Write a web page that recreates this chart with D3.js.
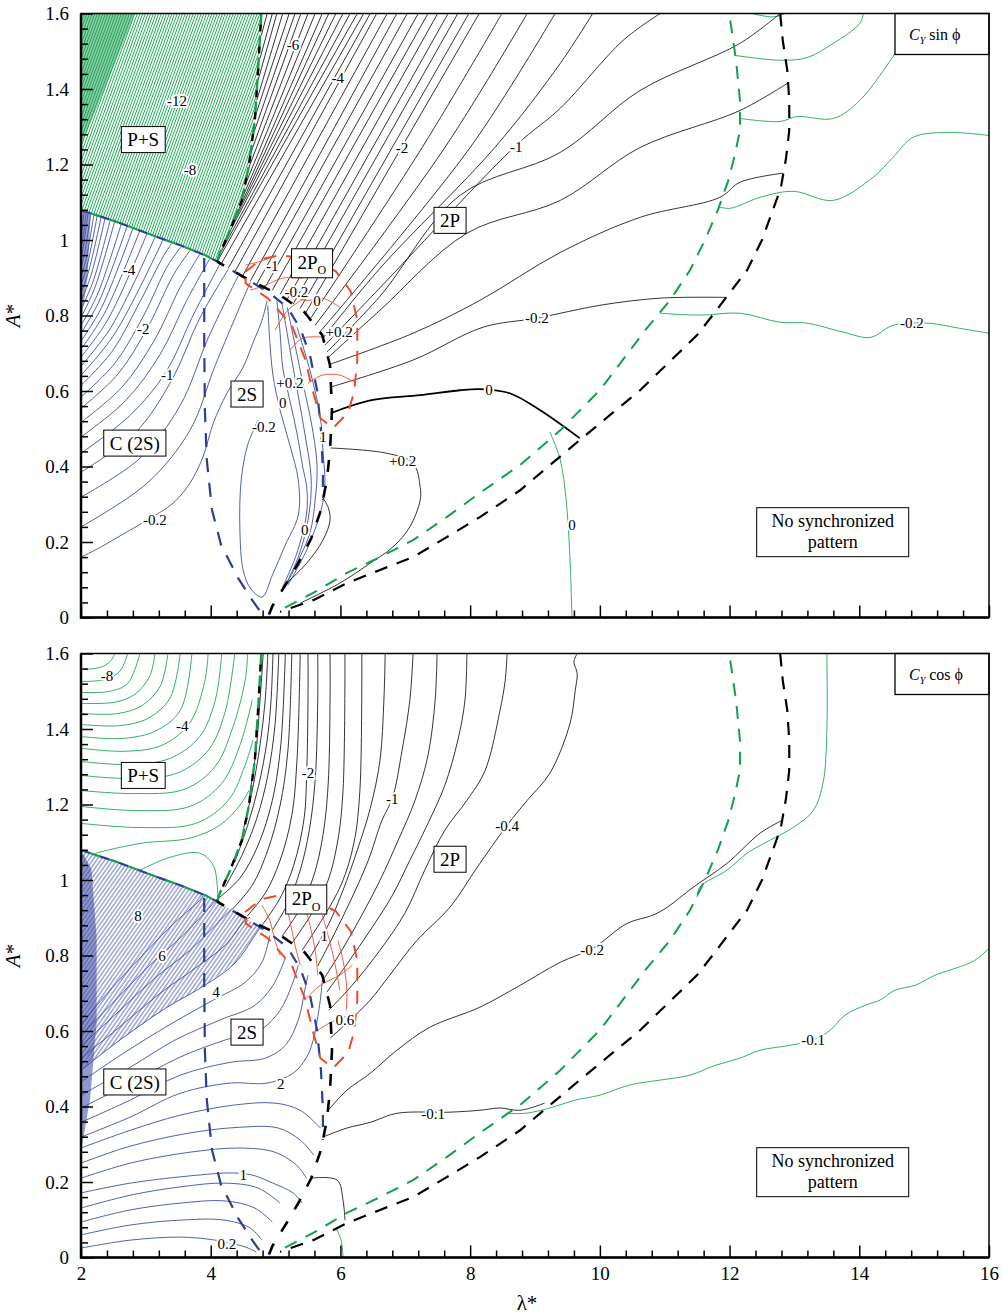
<!DOCTYPE html>
<html>
<head>
<meta charset="utf-8">
<script src="https://cdn.jsdelivr.net/npm/d3@7/dist/d3.min.js"></script>
<style>
  body { margin: 0; background: #fff; }
  text { font-family: "Liberation Serif", "Times New Roman", serif; }
</style>
</head>
<body>
<svg id="chart" width="1004" height="1316"></svg>
<script>
// ---- axes ----
const xMajor = [2, 4, 6, 8, 10, 12, 14, 16];
const yMajor = [0, 0.2, 0.4, 0.6, 0.8, 1, 1.2, 1.4, 1.6];

// ---- regime boundaries (same in both panels), [lambda*, A*] ----
const left2P = [[4.78,1.6],[4.73,1.449],[4.68,1.317],[4.59,1.198],[4.48,1.105],[4.30,1.026],[4.14,0.965],[4.10,0.943]];
const upperC2S = [[2,1.079],[2.52,1.050],[3.06,1.015],[3.53,0.986],[3.91,0.960],[4.10,0.943]];
const lower2P = [[4.10,0.943],[4.57,0.896],[5.07,0.854],[5.45,0.808],[5.72,0.748],[5.84,0.668],[5.87,0.549],[5.84,0.443],[5.79,0.364],[5.70,0.285],[5.55,0.210],[5.36,0.147],[5.18,0.094],[4.95,0.030],[4.88,0.0]];
const right2S = [[4.10,0.943],[4.61,0.891],[4.91,0.859],[5.18,0.822],[5.38,0.766],[5.53,0.695],[5.64,0.602],[5.70,0.496],[5.73,0.390],[5.73,0.311]];
const left2S = [[3.90,0.952],[3.90,0.734],[3.91,0.549],[3.94,0.417],[4.02,0.285],[4.16,0.192],[4.42,0.105],[4.64,0.046],[4.79,0.009]];
const loop2PO = [[4.53,0.915],[4.78,0.949],[5.07,0.960],[5.56,0.949],[5.93,0.917],[6.16,0.864],[6.26,0.787],[6.26,0.682],[6.21,0.597],[6.12,0.544],[5.89,0.502],[5.69,0.528],[5.58,0.597],[5.45,0.687],[5.25,0.774],[4.88,0.846],[4.54,0.885],[4.53,0.915]];
const greenEdge = [[12.01,1.582],[12.10,1.476],[12.16,1.370],[12.16,1.290],[12.08,1.224],[11.98,1.158],[11.82,1.079],[11.62,1.000],[11.39,0.920],[11.08,0.840],[10.70,0.761],[10.00,0.602],[9.39,0.496],[8.77,0.404],[8.15,0.330],[7.64,0.266],[7.12,0.205],[6.61,0.160],[6.10,0.118],[5.58,0.065],[5.02,0.015]];
const blackEdge = [[12.78,1.6],[12.82,1.529],[12.89,1.449],[12.92,1.370],[12.92,1.290],[12.87,1.216],[12.79,1.138],[12.65,1.071],[12.50,1.000],[12.27,0.920],[12.01,0.862],[11.74,0.801],[11.50,0.748],[10.62,0.602],[9.69,0.470],[8.77,0.337],[8.15,0.266],[7.64,0.213],[7.12,0.160],[6.61,0.126],[6.10,0.091],[5.58,0.046],[5.07,0.015]];

// ---- top panel (Cy sin phi) contour lines ----
const sinBlack = [
  [[4.78,1.542],[4.87,1.60]], [[4.76,1.481],[4.95,1.60]], [[4.73,1.423],[5.02,1.60]],
  [[4.71,1.370],[5.11,1.60]], [[4.68,1.325],[5.21,1.60]], [[4.65,1.277],[5.30,1.60]],
  [[4.62,1.232],[5.39,1.60]], [[4.57,1.184],[5.50,1.60]], [[4.53,1.145],[5.61,1.60]],
  [[4.47,1.105],[5.72,1.60]], [[4.41,1.073],[5.82,1.60]], [[4.33,1.039],[5.93,1.60]],
  [[4.25,1.007],[6.04,1.60]], [[4.17,0.972],[6.15,1.60]], [[4.11,0.946],[6.26,1.60]],
  [[4.16,0.936],[6.36,1.60]], [[4.27,0.925],[6.46,1.60]], [[4.37,0.915],[6.56,1.60]],
  [[4.48,0.901],[6.72,1.60]], [[4.61,0.891],[6.87,1.60]], [[4.71,0.883],[7.03,1.60]],
  [[4.84,0.875],[7.20,1.60]], [[4.95,0.867],[7.35,1.60]], [[5.07,0.856],[7.50,1.60]],
  [[5.18,0.843],[7.66,1.60]], [[5.27,0.830],[7.81,1.60]], [[5.38,0.819],[7.98,1.60]],
  [[5.45,0.803],[8.14,1.60]],
  [[5.53,0.790],[7.26,1.245],[8.49,1.60]],
  [[5.61,0.774],[7.61,1.245],[8.88,1.60]],
  [[5.69,0.758],[8.00,1.245],[9.31,1.60]],
  [[5.73,0.740],[6.61,0.925],[8.38,1.245],[9.39,1.468],[9.89,1.60]],
  [[5.76,0.721],[6.69,0.888],[8.71,1.251],[9.39,1.349],[10.36,1.529],[10.93,1.60]],
  [[5.79,0.703],[6.61,0.851],[7.84,1.118],[9.39,1.232],[10.62,1.396],[12.16,1.521],[12.78,1.60]],
  [[5.82,0.690],[6.61,0.814],[7.95,1.018],[9.39,1.105],[10.62,1.245],[12.16,1.343],[12.89,1.415]],
  [[5.84,0.671],[7.12,0.753],[8.15,0.840],[9.39,0.967],[10.62,1.060],[11.85,1.113],[12.16,1.153],[12.82,1.177]],
  [[5.84,0.610],[7.12,0.682],[8.20,0.769],[9.03,0.793],[10.00,0.827],[10.93,0.846],[11.96,0.848]],
  [[5.85,0.449],[6.72,0.435],[7.12,0.409],[7.23,0.345],[7.23,0.311],[7.07,0.240],[6.81,0.187],[6.46,0.144],[5.99,0.091],[5.38,0.038]],
  [[5.11,0.081],[5.48,0.144],[5.73,0.205],[5.84,0.258],[5.81,0.292],[5.72,0.319]]
];
const sinZero = [[5.85,0.541],[6.46,0.575],[7.23,0.589],[7.84,0.602],[8.15,0.605],[8.61,0.594],[9.08,0.549],[9.69,0.475]];
const sinGreen = [
  [[12.35,1.6],[12.67,1.591],[12.86,1.6]],
  [[14.06,1.6],[14.01,1.574],[13.60,1.521],[13.21,1.484],[12.81,1.476],[12.08,1.489]],
  [[14.55,1.494],[14.01,1.370],[13.60,1.322],[13.04,1.327],[12.78,1.314],[12.16,1.322]],
  [[16,1.277],[15.35,1.285],[14.83,1.272],[14.52,1.219],[14.21,1.166],[13.60,1.105],[12.98,1.129],[12.47,1.113],[12.01,1.084],[11.85,1.087]],
  [[16,0.753],[15.55,0.766],[15.04,0.780],[14.52,0.774],[14.17,0.742],[13.75,0.756],[13.19,0.780],[12.78,0.782],[12.16,0.806],[11.54,0.801],[10.93,0.806]],
  [[9.57,0.0],[9.54,0.152],[9.48,0.311],[9.39,0.417],[9.23,0.491]]
];
const sinBlueC2S = [
  [[2,0.160],[2.31,0.187],[2.62,0.218],[3.02,0.258],[3.42,0.303],[3.68,0.356],[3.88,0.425],[4.04,0.515],[4.25,0.594],[4.50,0.663],[4.65,0.727],[4.79,0.787],[4.87,0.840]],
  [[2,0.240],[3.02,0.356],[3.68,0.496],[4.07,0.668],[4.61,0.888]],
  [[2,0.319],[2.91,0.422],[3.53,0.562],[3.96,0.740],[4.42,0.904]],
  [[2,0.385],[2.83,0.488],[3.40,0.629],[3.83,0.793],[4.27,0.922]],
  [[2,0.435],[2.76,0.536],[3.31,0.650],[3.73,0.801],[4.14,0.936]],
  [[2,0.478],[2.69,0.575],[3.22,0.697],[3.63,0.840],[3.99,0.952]],
  [[2,0.517],[2.63,0.610],[3.13,0.734],[3.53,0.875],[3.83,0.962]],
  [[2,0.554],[2.57,0.645],[3.03,0.769],[3.43,0.909],[3.68,0.972]],
  [[2,0.584],[2.52,0.673],[2.96,0.798],[3.34,0.933],[3.54,0.981]],
  [[2,0.615],[2.48,0.705],[2.89,0.830],[3.28,0.960],[3.40,0.991]],
  [[2,0.642],[2.51,0.749],[3.26,0.999]],
  [[2,0.666],[2.46,0.768],[3.14,1.007]],
  [[2,0.690],[2.41,0.788],[3.02,1.018]],
  [[2,0.711],[2.36,0.805],[2.91,1.026]],
  [[2,0.732],[2.32,0.822],[2.80,1.031]],
  [[2,0.753],[2.28,0.838],[2.71,1.036]],
  [[2,0.774],[2.25,0.854],[2.62,1.042]],
  [[2,0.795],[2.21,0.872],[2.52,1.050]],
  [[2,0.817],[2.18,0.887],[2.45,1.052]],
  [[2,0.838],[2.15,0.904],[2.37,1.057]],
  [[2,0.859],[2.12,0.919],[2.31,1.060]],
  [[2,0.880],[2.10,0.936],[2.25,1.065]],
  [[2,0.901],[2.08,0.951],[2.20,1.068]],
  [[2,0.925],[2.06,0.969],[2.15,1.071]],
  [[2,0.949],[2.04,0.986],[2.11,1.073]],
  [[2,0.975],[2.03,1.005],[2.08,1.073]],
  [[2,1.002],[2.05,1.076]]
];
const sinBlue2S = [
  [[4.73,0.523],[4.57,0.457],[4.47,0.364],[4.45,0.232],[4.50,0.126],[4.61,0.078],[4.79,0.054],[4.95,0.112],[5.15,0.192],[5.35,0.271],[5.35,0.364],[5.22,0.457],[5.07,0.549],[4.96,0.642],[4.91,0.734],[4.88,0.827]],
  [[5.02,0.840],[5.07,0.753],[5.11,0.663],[5.22,0.575],[5.33,0.488],[5.42,0.398],[5.48,0.345],[5.48,0.277],[5.33,0.171],[5.11,0.081]],
  [[5.10,0.831],[5.25,0.682],[5.45,0.488],[5.55,0.364],[5.50,0.258],[5.35,0.160],[5.13,0.078]],
  [[5.18,0.822],[5.38,0.655],[5.58,0.488],[5.64,0.398],[5.61,0.311],[5.53,0.224],[5.33,0.144],[5.15,0.081]],
  [[5.33,0.769],[5.53,0.655],[5.69,0.531],[5.73,0.443],[5.76,0.345],[5.69,0.277],[5.48,0.179],[5.19,0.086]]
];
const sinRed = [
  [[4.53,0.933],[4.71,0.941],[4.91,0.952]],
  [[4.61,0.867],[4.84,0.880],[5.11,0.899],[5.42,0.899]],
  [[5.15,0.867],[5.45,0.840],[5.72,0.846],[5.99,0.822]],
  [[4.99,0.761],[5.19,0.814],[5.45,0.846]],
  [[5.22,0.708],[5.42,0.740],[5.76,0.742]],
  [[5.50,0.620],[5.72,0.642],[5.99,0.642],[6.22,0.623]]
];
const sinGreenDark = [[2,1.6],[2.83,1.6],[2.45,1.436],[2,1.251]];
const sinBlueStrip = [[2,1.079],[2.15,1.071],[2.10,0.90],[2,0.78]];

// ---- bottom panel (Cy cos phi) contour lines ----
const cosBlack = [
  [[4.61,1.237],[4.70,1.343],[4.76,1.476],[4.81,1.6]],
  [[4.50,1.132],[4.64,1.237],[4.76,1.357],[4.84,1.476],[4.88,1.6]],
  [[4.37,1.047],[4.57,1.145],[4.74,1.251],[4.87,1.370],[4.93,1.476],[4.96,1.6]],
  [[4.22,0.981],[4.48,1.065],[4.71,1.163],[4.88,1.277],[4.99,1.409],[5.05,1.6]],
  [[4.08,0.946],[4.45,1.005],[4.73,1.092],[4.95,1.211],[5.08,1.357],[5.15,1.6]],
  [[4.33,0.922],[4.64,0.986],[4.88,1.079],[5.07,1.198],[5.19,1.343],[5.25,1.6]],
  [[4.56,0.904],[4.84,0.965],[5.07,1.052],[5.25,1.171],[5.33,1.317],[5.38,1.6]],
  [[4.79,0.880],[5.07,0.952],[5.28,1.039],[5.44,1.163],[5.48,1.285],[5.50,1.476],[5.50,1.6]],
  [[4.95,0.867],[5.19,0.938],[5.38,1.026],[5.52,1.132],[5.61,1.264],[5.65,1.476],[5.65,1.6]],
  [[5.10,0.851],[5.38,0.925],[5.59,1.012],[5.73,1.118],[5.81,1.251],[5.84,1.476],[5.84,1.6]],
  [[5.25,0.832],[5.56,0.912],[5.81,0.999],[5.96,1.105],[6.04,1.237],[6.07,1.6]],
  [[5.41,0.814],[5.73,0.899],[6.02,0.991],[6.21,1.100],[6.30,1.237],[6.33,1.6]],
  [[5.53,0.795],[5.81,0.880],[6.04,0.973],[6.26,1.079],[6.46,1.190],[6.61,1.317],[6.67,1.476],[6.69,1.6]],
  [[5.65,0.772],[5.92,0.862],[6.18,0.954],[6.43,1.052],[6.64,1.158],[6.80,1.216],[6.95,1.343],[7.07,1.476],[7.12,1.6]],
  [[5.75,0.740],[6.04,0.819],[6.33,0.907],[6.61,0.999],[6.89,1.105],[7.15,1.211],[7.35,1.330],[7.46,1.476],[7.49,1.6]],
  [[5.79,0.703],[6.12,0.782],[6.46,0.867],[6.80,0.959],[7.07,1.052],[7.35,1.150],[7.61,1.251],[7.81,1.370],[7.92,1.476],[7.95,1.6]],
  [[5.82,0.655],[6.18,0.721],[6.61,0.814],[7.00,0.914],[7.30,1.026],[7.61,1.132],[7.95,1.211],[8.23,1.290],[8.46,1.449],[8.54,1.528],[8.57,1.6]],
  [[5.84,0.581],[6.10,0.621],[6.46,0.682],[6.76,0.748],[7.18,0.840],[7.69,0.928],[8.11,1.034],[8.57,1.145],[8.88,1.211],[9.23,1.283],[9.54,1.415],[9.62,1.502],[9.65,1.548],[9.60,1.577],[9.65,1.6]],
  [[5.81,0.390],[6.10,0.443],[6.46,0.488],[6.87,0.549],[7.38,0.610],[8.15,0.663],[8.77,0.721],[9.39,0.782],[9.89,0.819],[10.42,0.885],[10.82,0.907],[11.04,0.928],[11.44,0.981],[11.96,1.044],[12.47,1.124],[12.81,1.158]],
  [[5.73,0.319],[6.10,0.343],[6.46,0.358],[6.87,0.382],[7.69,0.385],[8.15,0.390],[8.46,0.396],[8.77,0.390],[9.15,0.409]],
  [[5.53,0.210],[5.95,0.205],[6.04,0.152],[6.07,0.099]]
];
const cosGreen = [
  [[2,1.558],[2.29,1.563],[2.45,1.579],[2.52,1.6]],
  [[2,1.526],[2.37,1.531],[2.60,1.553],[2.72,1.6]],
  [[2,1.497],[2.45,1.500],[2.72,1.521],[2.91,1.6]],
  [[2,1.468],[2.52,1.471],[2.83,1.492],[3.06,1.540],[3.14,1.6]],
  [[2,1.441],[2.57,1.441],[2.94,1.462],[3.22,1.513],[3.34,1.6]],
  [[2,1.412],[2.60,1.409],[3.03,1.428],[3.37,1.481],[3.53,1.6]],
  [[2,1.380],[2.63,1.375],[3.14,1.394],[3.53,1.449],[3.71,1.6]],
  [[2,1.349],[2.68,1.341],[3.25,1.357],[3.68,1.417],[3.91,1.528],[3.96,1.6]],
  [[2,1.314],[2.72,1.306],[3.37,1.322],[3.83,1.380],[4.07,1.476],[4.17,1.6]],
  [[2,1.277],[2.76,1.269],[3.48,1.283],[3.96,1.343],[4.22,1.444],[4.37,1.6]],
  [[2,1.237],[2.80,1.229],[3.59,1.240],[4.07,1.301],[4.34,1.404],[4.53,1.528],[4.57,1.6]],
  [[2,1.195],[2.85,1.184],[3.68,1.195],[4.17,1.256],[4.45,1.357],[4.64,1.476]],
  [[2,1.150],[2.91,1.139],[3.77,1.150],[4.27,1.211],[4.53,1.304],[4.65,1.370]],
  [[2.22,1.071],[2.91,1.097],[3.68,1.111],[4.14,1.145],[4.45,1.198],[4.59,1.237]],
  [[2.91,1.026],[3.37,1.060],[3.83,1.071],[4.04,1.039],[4.10,0.986],[4.11,0.954]],
  [[13.50,1.6],[13.50,1.396],[13.44,1.256],[13.29,1.184],[12.98,1.139],[12.62,1.105],[12.27,1.071],[11.96,1.026],[11.54,0.981],[11.50,0.954]],
  [[16,0.819],[15.78,0.787],[15.48,0.766],[15.17,0.748],[14.86,0.721],[14.55,0.708],[14.32,0.682],[14.09,0.668],[13.78,0.642],[13.55,0.602],[13.29,0.576],[12.93,0.562],[12.47,0.549],[12.16,0.528],[11.78,0.509],[11.39,0.483],[10.93,0.470],[10.46,0.457],[10.00,0.430],[9.62,0.417],[9.23,0.396],[8.85,0.382],[8.54,0.382]],
  [[5.93,0.078],[6.01,0.046],[6.04,0.0]]
];
const cosBlue = [
  [[2,0.025],[2.76,0.046],[3.53,0.054],[4.07,0.046],[4.53,0.028],[4.70,0.015]],
  [[2,0.060],[2.76,0.086],[3.53,0.099],[4.22,0.099],[4.61,0.078],[4.79,0.046]],
  [[2,0.094],[2.76,0.126],[3.53,0.144],[4.22,0.150],[4.68,0.131],[4.95,0.094]],
  [[2,0.131],[2.76,0.165],[3.53,0.187],[4.22,0.197],[4.73,0.184],[5.07,0.144]],
  [[2,0.171],[2.76,0.197],[3.79,0.218],[4.34,0.224],[4.65,0.218],[4.96,0.197],[5.27,0.171],[5.41,0.144]],
  [[2,0.210],[2.76,0.250],[3.68,0.279],[4.45,0.290],[4.99,0.279],[5.32,0.245],[5.48,0.210]],
  [[2,0.250],[2.76,0.295],[3.68,0.330],[4.45,0.345],[5.04,0.343],[5.38,0.311],[5.59,0.271]],
  [[2,0.290],[2.76,0.337],[3.53,0.377],[4.37,0.404],[4.99,0.409],[5.38,0.390],[5.69,0.343]],
  [[2,0.319],[2.76,0.372],[3.53,0.435],[4.30,0.462],[4.87,0.462],[5.27,0.488],[5.48,0.531],[5.58,0.576],[5.69,0.682],[5.72,0.734]],
  [[2,0.358],[2.76,0.417],[3.53,0.483],[4.30,0.517],[4.84,0.528],[5.15,0.562],[5.35,0.629],[5.45,0.708],[5.50,0.748]],
  [[2,0.396],[2.76,0.462],[3.53,0.531],[4.22,0.576],[4.76,0.602],[5.07,0.655],[5.25,0.721],[5.35,0.774]],
  [[2,0.430],[2.76,0.504],[3.45,0.576],[4.14,0.629],[4.68,0.668],[4.96,0.721],[5.15,0.793]],
  [[2,0.465],[2.68,0.544],[3.37,0.617],[4.04,0.682],[4.53,0.729],[4.79,0.782],[4.91,0.853]],
  [[2,0.496],[2.60,0.576],[3.30,0.660],[3.91,0.721],[4.37,0.779],[4.68,0.853],[4.79,0.880]],
  [[2,0.528],[2.57,0.607],[3.22,0.700],[3.76,0.766],[4.22,0.827],[4.53,0.893],[4.61,0.901]],
  [[2,0.560],[2.52,0.642],[3.14,0.740],[3.68,0.814],[4.07,0.880],[4.33,0.925]],
  [[2,0.589],[2.48,0.673],[3.06,0.774],[3.57,0.853],[3.91,0.914],[4.08,0.946]],
  [[2,0.617],[2.42,0.703],[2.99,0.808],[3.45,0.888],[3.83,0.946],[3.88,0.959]]
];
const cosRed = [
  [[4.79,0.933],[4.91,0.893],[4.99,0.840],[5.07,0.801]],
  [[5.15,0.946],[5.22,0.893],[5.30,0.827],[5.38,0.774]],
  [[5.45,0.933],[5.53,0.880],[5.61,0.814],[5.65,0.748]],
  [[5.72,0.907],[5.81,0.853],[5.92,0.774],[5.99,0.708]],
  [[5.96,0.840],[6.04,0.787],[6.10,0.708],[6.09,0.655]],
  [[5.65,0.602],[5.92,0.629],[6.18,0.642]],
  [[5.45,0.682],[5.69,0.721],[5.99,0.748],[6.18,0.774]]
];
const cosBlueStrip = [[2,1.079],[2.16,1.03],[2.24,0.85],[2.24,0.62],[2.14,0.42],[2,0.28]];

// ---- labels: [text, lambda*, A*] ----
const sinLabels = [
  ["-12",3.48,1.370],["-8",3.68,1.187],["-4",2.74,0.922],["-2",2.96,0.764],
  ["-1",3.33,0.642],["-0.2",3.14,0.258],["-6",5.27,1.518],["-4",5.96,1.431],
  ["-2",6.95,1.245],["-1",8.71,1.248],["-0.2",9.03,0.793],["0",8.29,0.602],
  ["+0.2",6.96,0.414],["-1",4.95,0.933],["-0.2",5.32,0.862],["0",5.64,0.840],
  ["+0.2",5.98,0.758],["+0.2",5.22,0.623],["0",5.11,0.570],["-0.2",4.82,0.504],
  ["1",5.73,0.478],["0",5.45,0.232],["0",9.57,0.245],["-0.2",14.81,0.780]
];
const cosLabels = [
  ["-8",2.40,1.542],["-4",3.56,1.409],["8",2.88,0.904],["6",3.25,0.800],
  ["4",4.08,0.703],["2",5.08,0.459],["1",4.50,0.218],["0.2",4.25,0.036],
  ["-2",5.50,1.285],["-1",6.80,1.216],["-0.4",8.57,1.145],["-0.2",9.88,0.814],
  ["-0.1",7.43,0.382],["-0.1",13.29,0.576],["1",5.75,0.851],["0.6",6.07,0.631]
];
// boxed regime names: [text, lambda*, A*]
const sinBoxes = [["P+S",2.96,1.266],["C (2S)",2.83,0.462],["2S",4.56,0.592],["2P|O",5.56,0.941],["2P",7.69,1.052]];
const cosBoxes = [["P+S",2.96,1.277],["C (2S)",2.83,0.465],["2S",4.56,0.597],["2P|O",5.47,0.951],["2P",7.69,1.055]];
const noSyncPos = [13.59, 0.226];

// ---------------------------------------------------------------
const svg = d3.select("#chart");
const defs = svg.append("defs");
const x = d3.scaleLinear().domain([2, 16]).range([81, 989]);

function hatch(id, w, angle, color, sw) {
  const p = defs.append("pattern").attr("id", id).attr("patternUnits", "userSpaceOnUse")
    .attr("width", w).attr("height", 10).attr("patternTransform", `rotate(${angle})`);
  p.append("line").attr("x1", w / 2).attr("y1", 0).attr("x2", w / 2).attr("y2", 10)
    .attr("stroke", color).attr("stroke-width", sw);
}
hatch("hGreen", 2.5, 20, "#1fa757", 0.95);
hatch("hGreenD", 1.9, 12, "#169b4c", 0.95);
hatch("hBlue2", 3.3, 35, "#33459f", 0.8);
hatch("hBlueS", 1.7, 60, "#2c3e9c", 0.9);
hatch("hBlueT", 1.8, 25, "#2c3e9c", 0.9);

const GREEN = "#1ea653", BLUE = "#33459f", RED = "#ef4a26";

const panels = [
  { id: "sin", y0: 617.5, y1: 13.5, showX: false, title: "sin",
    fills: [
      { pts: [[2, 1.6], ...left2P, ...upperC2S.slice().reverse()], pat: "hGreen" },
      { pts: sinGreenDark, pat: "hGreenD" },
      { pts: sinBlueStrip, pat: "hBlueT" }
    ],
    sets: [
      { data: sinGreen, color: GREEN, w: 0.9 },
      { data: sinBlueC2S.concat(sinBlue2S), color: BLUE, w: 0.85 },
      { data: sinBlack, color: "#000", w: 0.8 },
      { data: [sinZero], color: "#000", w: 1.8 },
      { data: sinRed, color: RED, w: 0.9 }
    ],
    labels: sinLabels, boxes: sinBoxes },
  { id: "cos", y0: 1257.5, y1: 653.5, showX: true, title: "cos",
    fills: [
      { pts: [...upperC2S, [4.61, 0.891], ...cosBlue[13].slice().reverse()], pat: "hBlue2" },
      { pts: cosBlueStrip, pat: "hBlueS" }
    ],
    sets: [
      { data: cosGreen, color: GREEN, w: 0.9 },
      { data: cosBlue, color: BLUE, w: 0.85 },
      { data: cosBlack, color: "#000", w: 0.8 },
      { data: cosRed, color: RED, w: 0.9 }
    ],
    labels: cosLabels, boxes: cosBoxes }
];

panels.forEach(p => {
  const y = d3.scaleLinear().domain([0, 1.6]).range([p.y0, p.y1]);
  const g = svg.append("g");
  defs.append("clipPath").attr("id", "clip-" + p.id).append("rect")
    .attr("x", x(2)).attr("y", p.y1).attr("width", x(16) - x(2)).attr("height", p.y0 - p.y1);
  const plot = g.append("g").attr("clip-path", `url(#clip-${p.id})`);
  const curve = d3.line().x(d => x(d[0])).y(d => y(d[1])).curve(d3.curveCatmullRom.alpha(0.5));
  const poly = d3.line().x(d => x(d[0])).y(d => y(d[1]));

  p.fills.forEach(f => plot.append("path").attr("d", poly(f.pts) + "Z").attr("fill", `url(#${f.pat})`));

  p.sets.forEach(s => {
    plot.append("g").selectAll("path").data(s.data).join("path")
      .attr("d", curve).attr("fill", "none")
      .attr("stroke", s.color).attr("stroke-width", s.w).attr("stroke-linejoin", "round");
  });

  // regime boundaries (dashed)
  const dashed = (pts, color, w, dash, off) => plot.append("path").attr("d", poly(pts))
    .attr("fill", "none").attr("stroke", color).attr("stroke-width", w)
    .attr("stroke-dasharray", dash).attr("stroke-dashoffset", off || 0);
  dashed(left2S, "#2a3f96", 2.2, "14 11");
  dashed(right2S, "#2a3f96", 2.2, "12 12", 6);
  dashed(upperC2S, "#2a3f96", 2.2, "10 10");
  dashed(upperC2S, "#13a04b", 2.2, "10 10", 10);
  dashed(left2P, "#13a04b", 2.4, "14 8");
  dashed(left2P, "#000", 2.4, "7 15", 11);
  dashed(lower2P, "#000", 2.6, "12 14", 4);
  dashed(loop2PO, "#ef4a26", 2.0, "13 10");
  dashed(greenEdge, "#13a04b", 2.0, "13 10");
  dashed(blackEdge, "#000", 2.2, "13 10");

  // contour labels
  plot.append("g").selectAll("text").data(p.labels).join("text")
    .attr("x", d => x(d[1])).attr("y", d => y(d[2])).attr("dy", "0.35em")
    .attr("text-anchor", "middle").attr("font-size", 15).attr("fill", "#000")
    .attr("stroke", "#fff").attr("stroke-width", 4).attr("paint-order", "stroke")
    .text(d => d[0]);

  // boxed regime names
  p.boxes.forEach(b => {
    const bg = g.append("g").attr("transform", `translate(${x(b[1])},${y(b[2])})`);
    const rect = bg.append("rect").attr("fill", "#fff").attr("stroke", "#000").attr("stroke-width", 1);
    const t = bg.append("text").attr("text-anchor", "middle").attr("dy", "0.35em").attr("font-size", 19);
    const parts = b[0].split("|");
    t.append("tspan").text(parts[0]);
    if (parts[1]) t.append("tspan").attr("font-size", 12).attr("dy", "0.45em").text(parts[1]);
    const bb = t.node().getBBox();
    const h = parts[1] ? 29 : 26;
    rect.attr("x", bb.x - 6).attr("y", -h / 2 + (parts[1] ? 1 : 0)).attr("width", bb.width + 12).attr("height", h);
  });

  // "No synchronized pattern"
  const ns = g.append("g").attr("transform", `translate(${x(noSyncPos[0])},${y(noSyncPos[1])})`);
  ns.append("rect").attr("x", -76).attr("y", -24.5).attr("width", 152).attr("height", 49)
    .attr("fill", "#fff").attr("stroke", "#000").attr("stroke-width", 1);
  ns.append("text").attr("text-anchor", "middle").attr("y", -5).attr("font-size", 18).text("No synchronized");
  ns.append("text").attr("text-anchor", "middle").attr("y", 16).attr("font-size", 18).text("pattern");

  // title box
  const tb = g.append("g").attr("transform", `translate(${x(16) - 94},${p.y1})`);
  tb.append("rect").attr("width", 94).attr("height", 41).attr("fill", "#fff").attr("stroke", "#000").attr("stroke-width", 1.3);
  const tt = tb.append("text").attr("x", 14).attr("y", 26).attr("font-size", 16);
  tt.append("tspan").attr("font-style", "italic").text("C");
  tt.append("tspan").attr("font-style", "italic").attr("font-size", 10).attr("dy", 4).text("Y");
  tt.append("tspan").attr("dy", -4).text(p.title === "sin" ? " sin \u03D5" : " cos \u03D5");

  // axes with inward ticks
  const xMinor = d3.range(2, 16.001, 0.4).filter(v => Math.abs(v / 2 - Math.round(v / 2)) > 1e-6);
  const yMinor = d3.range(0, 1.6001, 0.04).filter(v => Math.abs(v / 0.2 - Math.round(v / 0.2)) > 1e-6);
  const ax = g.append("g").attr("transform", `translate(0,${p.y0})`);
  ax.call(d3.axisBottom(x).tickValues(xMajor).tickSize(-12).tickSizeOuter(0).tickPadding(9)
    .tickFormat(p.showX ? d3.format("d") : () => ""));
  ax.append("g").call(d3.axisBottom(x).tickValues(xMinor).tickSize(-7).tickSizeOuter(0).tickFormat(() => ""));
  const ay = g.append("g").attr("transform", `translate(${x(2)},0)`);
  ay.call(d3.axisLeft(y).tickValues(yMajor).tickSize(-12).tickSizeOuter(0).tickPadding(12).tickFormat(d3.format("~g")));
  ay.append("g").call(d3.axisLeft(y).tickValues(yMinor).tickSize(-7).tickSizeOuter(0).tickFormat(() => ""));
  g.selectAll(".domain").remove();
  g.selectAll(".tick line").attr("stroke", "#000").attr("stroke-width", 1.5);
  g.selectAll(".tick text").attr("font-size", 19).attr("font-family", "'Liberation Serif','Times New Roman',serif").attr("fill", "#000");

  // frame
  g.append("rect").attr("x", x(2)).attr("y", p.y1).attr("width", x(16) - x(2)).attr("height", p.y0 - p.y1)
    .attr("fill", "none").attr("stroke", "#000").attr("stroke-width", 1.5);
  g.append("path").attr("d", `M${x(2)},${p.y1}V${p.y0}H${x(16)}`).attr("fill", "none").attr("stroke", "#000").attr("stroke-width", 2.5);

  // y axis title
  const yt = g.append("text").attr("transform", `translate(20,${(p.y0 + p.y1) / 2}) rotate(-90)`)
    .attr("text-anchor", "middle").attr("font-size", 21);
  yt.append("tspan").attr("font-style", "italic").text("A");
  yt.append("tspan").text("*");
});

svg.append("text").attr("x", (x(2) + x(16)) / 2 - 8).attr("y", 1310).attr("text-anchor", "middle")
  .attr("font-size", 21).text("\u03BB*");
</script>
</body>
</html>
